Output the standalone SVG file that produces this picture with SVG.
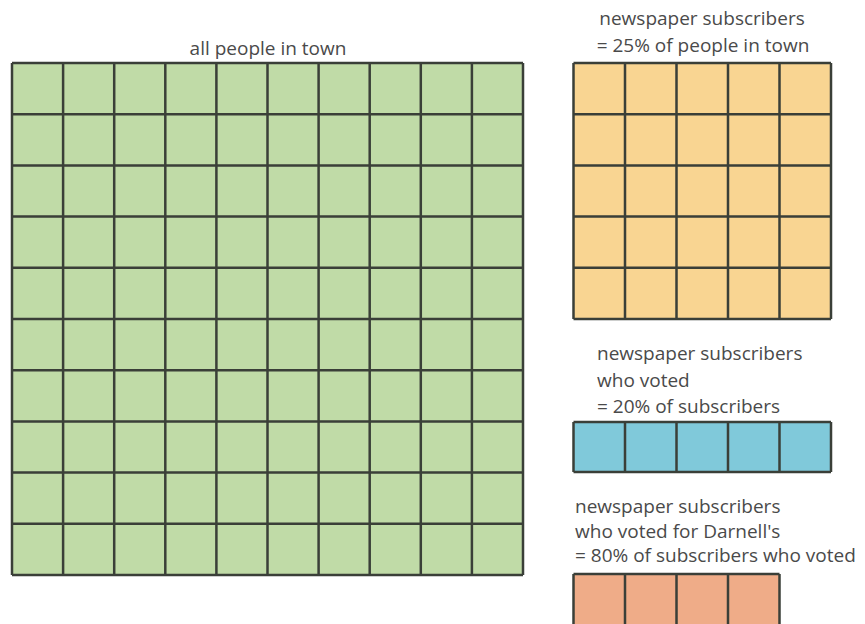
<svg xmlns="http://www.w3.org/2000/svg" width="865" height="624" viewBox="0 0 865 624">
<style>
text{font-family:"Open Sans","Noto Sans","Liberation Sans",sans-serif;font-size:19px;fill:#4a4a4a}
.g{stroke:#3a3f38;stroke-width:2.5;fill:none}
</style>
<rect width="865" height="624" fill="#fff"/>
<g id="all-people">
<text x="268" y="55" text-anchor="middle">all people in town</text>
<rect x="12" y="63" width="511" height="512" fill="#c0dba7"/>
<path class="g" d="M12 63V575M63.1 63V575M114.2 63V575M165.3 63V575M216.4 63V575M267.5 63V575M318.6 63V575M369.7 63V575M420.8 63V575M471.9 63V575M523 63V575M12 63H523M12 114.2H523M12 165.4H523M12 216.6H523M12 267.8H523M12 319H523M12 370.2H523M12 421.4H523M12 472.6H523M12 523.8H523M12 575H523"/>
</g>
<g id="subscribers">
<text x="702" y="25" text-anchor="middle">newspaper subscribers</text>
<text x="703" y="52" text-anchor="middle">= 25% of people in town</text>
<rect x="573.5" y="63" width="257.5" height="256" fill="#f9d592"/>
<path class="g" d="M573.5 63V319M625 63V319M676.5 63V319M728 63V319M779.5 63V319M831 63V319M573.5 63H831M573.5 114.2H831M573.5 165.4H831M573.5 216.6H831M573.5 267.8H831M573.5 319H831"/>
</g>
<g id="voted">
<text x="597" y="360">newspaper subscribers</text>
<text x="597" y="387">who voted</text>
<text x="597" y="413">= 20% of subscribers</text>
<rect x="573.5" y="422" width="257.5" height="50" fill="#80c9da"/>
<path class="g" d="M573.5 422V472M625 422V472M676.5 422V472M728 422V472M779.5 422V472M831 422V472M573.5 422H831M573.5 472H831"/>
</g>
<g id="darnells">
<text x="575" y="513">newspaper subscribers</text>
<text x="575" y="538">who voted for Darnell's</text>
<text x="575" y="562">= 80% of subscribers who voted</text>
<rect x="573.5" y="574" width="206" height="54" fill="#efac88"/>
<path class="g" d="M573.5 574V628M625 574V628M676.5 574V628M728 574V628M779.5 574V628M573.5 574H779.5"/>
</g>
</svg>
